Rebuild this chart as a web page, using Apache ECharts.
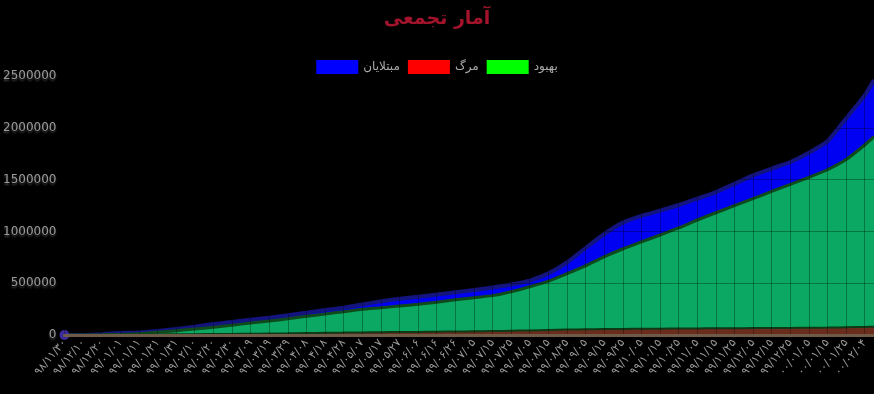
<!DOCTYPE html>
<html>
<head>
<meta charset="utf-8">
<script src="https://cdn.jsdelivr.net/npm/echarts@6/dist/echarts.min.js"></script>
<style>
html,body{margin:0;padding:0;background:#000;}
#chart{width:874px;height:394px;}
</style>
</head>
<body>
<div id="chart"></div>
<script>
// Tick labels (every 10 days)
const tickLabels = ['۹۸/۱۱/۳۰','۹۸/۱۲/۱۰','۹۸/۱۲/۲۰','۹۹/۰۱/۰۱','۹۹/۰۱/۱۱','۹۹/۰۱/۲۱','۹۹/۰۱/۳۱','۹۹/۰۲/۱۰','۹۹/۰۲/۲۰','۹۹/۰۲/۳۰',
'۹۹/۰۳/۰۹','۹۹/۰۳/۱۹','۹۹/۰۳/۲۹','۹۹/۰۴/۰۸','۹۹/۰۴/۱۸','۹۹/۰۴/۲۸','۹۹/۰۵/۰۷','۹۹/۰۵/۱۷','۹۹/۰۵/۲۷','۹۹/۰۶/۰۶',
'۹۹/۰۶/۱۶','۹۹/۰۶/۲۶','۹۹/۰۷/۰۵','۹۹/۰۷/۱۵','۹۹/۰۷/۲۵','۹۹/۰۸/۰۵','۹۹/۰۸/۱۵','۹۹/۰۸/۲۵','۹۹/۰۹/۰۵','۹۹/۰۹/۱۵',
'۹۹/۰۹/۲۵','۹۹/۱۰/۰۵','۹۹/۱۰/۱۵','۹۹/۱۰/۲۵','۹۹/۱۱/۰۵','۹۹/۱۱/۱۵','۹۹/۱۱/۲۵','۹۹/۱۲/۰۵','۹۹/۱۲/۱۵','۹۹/۱۲/۲۵',
'۰۰/۰۱/۰۵','۰۰/۰۱/۱۵','۰۰/۰۱/۲۵','۰۰/۰۲/۰۴'];
// day index since first date
const days = [0,10,20,30,40,50,60,70,80,90,100,110,120,130,140,150,160,170,180,190,200,210,220,230,240,250,260,270,280,290,300,310,320,330,340,350,360,370,380,390,400,410,420,430,435];
const infected = [0,1000,8000,19000,25000,38000,58000,80000,106000,125000,148000,167000,190000,215000,241000,264000,295000,325000,350000,370000,390000,412000,434000,458000,488000,525000,595000,700000,840000,975000,1085000,1150000,1200000,1255000,1316000,1380000,1458000,1540000,1606000,1670000,1760000,1870000,2090000,2313000,2461000];
const recovered = [0,50,2000,6000,12000,26000,42000,58000,74000,94000,116000,135000,157000,180000,203000,225000,248000,263000,280000,296000,317000,340000,360000,380000,418000,466000,520000,592000,668000,755000,830000,898000,965000,1033000,1110000,1180000,1248000,1316000,1386000,1454000,1522000,1595000,1693000,1834000,1914000];
const deaths = [0,50,300,1500,3500,5500,7000,8000,9000,10000,12000,14000,16000,18500,21000,23000,25000,27000,28500,30000,32000,34000,36000,38500,41000,44000,48000,52000,55000,57500,59000,60500,61500,62500,63500,64500,65500,66500,67500,68500,70000,72000,75000,78000,80000];

const seriesNames = ['مبتلایان','مرگ','بهبود'];

function pairs(vals){ return days.map((d,i)=>[d, vals[i]]); }

const chart = echarts.init(document.getElementById('chart'));
const infData = pairs(infected).map((p,i)=> i===0 ? {value:p, symbol:'circle', symbolSize:10, itemStyle:{color:'#3b2b9a'}} : {value:p});

chart.setOption({
  backgroundColor:'#000',
  animation:false,
  title:{
    text:'آمار تجمعی', left:'center', top:5,
    textStyle:{color:'#a3142c', fontSize:19, fontWeight:'bold', fontFamily:'DejaVu Sans'}
  },
  legend:{
    top:55, left:'center', itemWidth:42, itemHeight:14, itemGap:8, icon:'rect',
    textStyle:{color:'#aaa', fontSize:12, fontFamily:'DejaVu Sans'},
    data:[
      {name:seriesNames[0], itemStyle:{color:'#0000ff', borderWidth:0}},
      {name:seriesNames[1], itemStyle:{color:'#ff0000', borderWidth:0}},
      {name:seriesNames[2], itemStyle:{color:'#00ff00', borderWidth:0}}
    ]
  },
  grid:{left:60, right:0, top:76, bottom:59},
  xAxis:{
    type:'value', min:0, max:435, interval:10, z:5,
    axisLine:{show:true, lineStyle:{color:'#6e5a46', width:3}},
    axisTick:{show:false},
    splitLine:{show:true, lineStyle:{color:'rgba(0,0,0,0.3)', width:1}},
    axisLabel:{
      rotate:50, color:'#999', fontSize:11, fontFamily:'DejaVu Sans', showMaxLabel:false, margin:6,
      formatter:function(v){ const i=Math.round(v/10); return (v%10===0 && tickLabels[i]) ? tickLabels[i] : ''; }
    }
  },
  yAxis:{
    type:'value', min:0, max:2500000, interval:500000, z:5,
    axisLine:{show:false}, axisTick:{show:false},
    splitLine:{show:true, lineStyle:{color:'rgba(0,0,0,0.3)', width:1}},
    axisLabel:{color:'#9a9a9a', fontSize:12, fontFamily:'DejaVu Sans', margin:8,
      formatter:function(v){ return String(v); },
      textShadowColor:'#444', textShadowBlur:2, textShadowOffsetY:2}
  },
  series:[
    {
      name:seriesNames[0], type:'line', data:infData, symbol:'none', smooth:0.2, z:1,
      itemStyle:{color:'#0000ff'},
      lineStyle:{color:'#14147e', width:4},
      areaStyle:{color:'#0000f2', opacity:1}
    },
    {
      name:seriesNames[2], type:'line', data:pairs(recovered), symbol:'none', smooth:0.2, z:1,
      itemStyle:{color:'#00ff00'},
      lineStyle:{color:'#0f4a1c', width:3},
      areaStyle:{color:'#0aa862', opacity:1}
    },
    {
      name:seriesNames[1], type:'line', data:pairs(deaths), symbol:'none', smooth:0.2, z:1,
      itemStyle:{color:'#ff0000'},
      lineStyle:{color:'#0f3a16', width:2},
      areaStyle:{color:'#6a2c1c', opacity:1}
    }
  ]
});
</script>
</body>
</html>
